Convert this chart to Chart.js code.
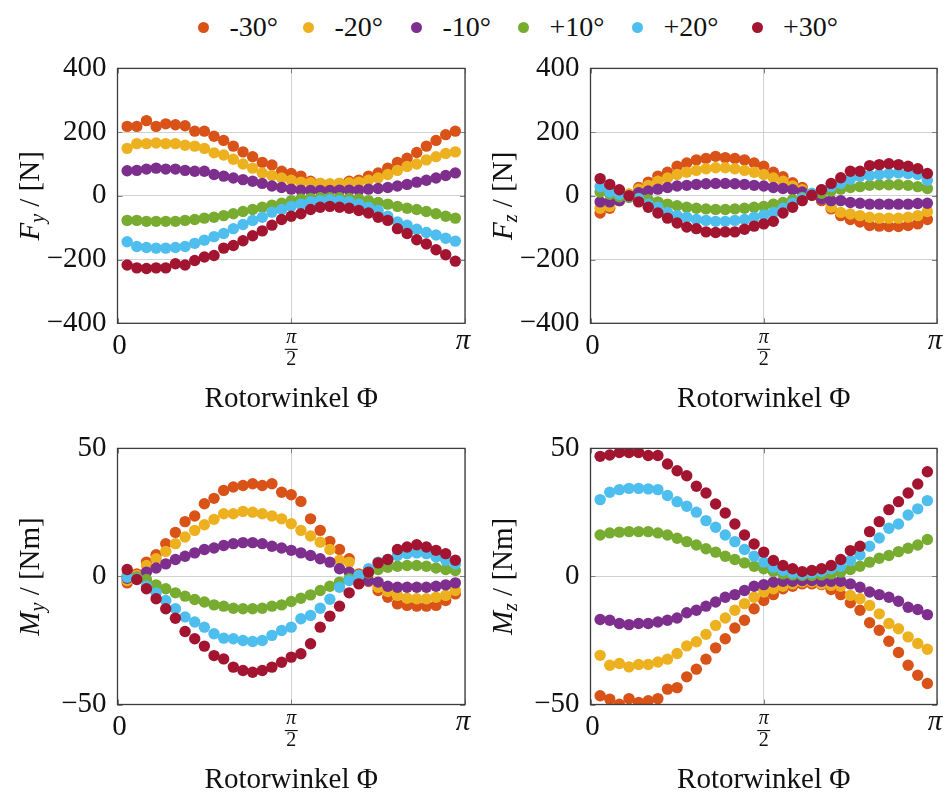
<!DOCTYPE html>
<html>
<head>
<meta charset="utf-8">
<script src="https://cdn.jsdelivr.net/npm/chart.js@4/dist/chart.umd.min.js"></script>
<style>
  html, body { margin: 0; padding: 0; background: #fff; }
  #wrap { position: relative; width: 949px; height: 794px; overflow: hidden; font-family: "Liberation Serif", serif; color: #111; }
  .panel { position: absolute; }
  #legend { position: absolute; left: 0; top: 9px; width: 949px; height: 36px; }
  .dot { position: absolute; top: 12.5px; width: 11px; height: 11px; border-radius: 50%; }
  .txt { position: absolute; top: 0; font-size: 28px; line-height: 36px; white-space: nowrap; }
</style>
</head>
<body>
<div id="wrap">
  <div id="legend"></div>
  <div class="panel" style="left:0;top:40px"><canvas id="cFy" width="474" height="380"></canvas></div>
  <div class="panel" style="left:474px;top:40px"><canvas id="cFz" width="475" height="380"></canvas></div>
  <div class="panel" style="left:0;top:420px"><canvas id="cMy" width="474" height="374"></canvas></div>
  <div class="panel" style="left:474px;top:420px"><canvas id="cMz" width="475" height="374"></canvas></div>
</div>
<script>
// Blade pitch angles (series) and their colours
const SERIES_LABELS = ['-30°', '-20°', '-10°', '+10°', '+20°', '+30°'];
const SERIES_COLORS = ['#D95319', '#EDB120', '#7E2F8E', '#77AC30', '#4DBEEE', '#A2142F'];

// Rotor angle of each sample, in degrees (axis runs 0 … 180° = 0 … π)
const ANGLE_DEG = [5, 10, 15, 20, 25, 30, 35, 40, 45, 50, 55, 60, 65, 70, 75, 80, 85, 90,
                   95, 100, 105, 110, 115, 120, 125, 130, 135, 140, 145, 150, 155, 160, 165, 170, 175];

// x-axis ticks and their labels
const X_TICKS = [0, 90, 180];
const X_TICK_LABELS = ['0', 'π/2', 'π'];
const X_TITLE = 'Rotorwinkel Φ';

// y-axis ticks
const F_TICKS = [-400, -200, 0, 200, 400];
const M_TICKS = [-50, 0, 50];

// Fy [N]
const fyM30 = [218, 218, 236, 218, 226, 223, 220, 203, 203, 187, 174, 156, 138, 123, 105, 97, 77, 70, 62, 46, 39, 36, 39, 46, 49, 62, 72, 87, 105, 118, 136, 156, 174, 192, 203];
const fyM20 = [149, 164, 164, 166, 164, 164, 159, 156, 149, 135, 128, 115, 100, 87, 72, 64, 56, 49, 43, 41, 39, 38, 39, 41, 43, 49, 56, 67, 80, 92, 100, 113, 123, 133, 138];
const fyM10 = [79, 80, 84, 87, 84, 84, 80, 77, 77, 67, 62, 56, 51, 46, 39, 31, 26, 21, 18, 17, 17, 17, 18, 18, 18, 21, 23, 26, 31, 36, 43, 49, 56, 64, 72];
const fyP10 = [-77, -77, -80, -80, -80, -80, -77, -74, -70, -67, -62, -56, -49, -43, -36, -29, -23, -15, -10, -8, -6, -6, -6, -8, -10, -15, -21, -26, -33, -39, -43, -49, -56, -64, -70];
const fyP20 = [-144, -159, -162, -164, -164, -162, -159, -149, -139, -128, -118, -103, -90, -77, -67, -51, -43, -33, -26, -18, -15, -12, -15, -18, -26, -36, -46, -64, -82, -92, -105, -115, -123, -133, -142];
const fyP30 = [-217, -226, -228, -226, -226, -213, -217, -203, -192, -187, -164, -156, -141, -125, -110, -92, -74, -64, -56, -43, -36, -33, -36, -39, -46, -54, -67, -77, -103, -118, -138, -151, -169, -185, -205];

// Fz [N]
const fzM30 = [-54, -39, -15, 5, 26, 43, 62, 74, 93, 103, 113, 117, 124, 120, 117, 113, 103, 93, 74, 60, 41, 26, 5, -15, -41, -62, -74, -82, -93, -95, -96, -96, -93, -88, -74];
const fzM20 = [-39, -33, -15, 5, 21, 33, 46, 56, 67, 74, 80, 85, 88, 88, 85, 80, 74, 67, 56, 46, 31, 19, 2, -10, -36, -52, -57, -62, -67, -70, -70, -70, -67, -62, -49];
const fzM10 = [-19, -19, -15, 0, 10, 15, 21, 26, 31, 33, 36, 38, 39, 39, 38, 36, 33, 31, 26, 23, 19, 12, 5, -10, -15, -15, -21, -23, -26, -26, -26, -26, -26, -24, -23];
const fzP10 = [12, 5, -3, -5, -8, -12, -19, -26, -31, -36, -39, -41, -43, -43, -41, -39, -36, -33, -26, -21, -12, -5, 2, 8, 15, 21, 26, 29, 33, 35, 35, 35, 33, 29, 23];
const fzP20 = [29, 12, 5, -2, -10, -26, -36, -52, -62, -67, -74, -77, -80, -80, -77, -74, -67, -60, -52, -39, -23, -8, 8, 19, 29, 39, 52, 62, 64, 67, 70, 72, 70, 67, 49];
const fzP30 = [54, 36, 19, 0, -19, -36, -54, -70, -85, -98, -103, -113, -115, -113, -113, -105, -95, -88, -80, -54, -36, -15, 2, 19, 39, 57, 77, 77, 95, 98, 101, 98, 93, 85, 70];

// My [Nm]
const myM30 = [-2.5, 1.0, 5.6, 8.5, 12.8, 17.2, 21.4, 23.6, 28.4, 30.5, 33.6, 34.9, 35.5, 36.2, 35.5, 36.2, 32.9, 31.9, 29.3, 22.5, 18.0, 13.7, 10.5, 6.9, 1.0, -2.0, -5.5, -8.1, -10.7, -11.3, -11.6, -11.6, -11.3, -9.4, -6.8];
const myM20 = [-1.6, 0.4, 4.3, 6.9, 9.8, 12.8, 15.4, 18.0, 20.2, 22.3, 24.5, 24.5, 25.4, 25.1, 24.5, 23.6, 22.5, 20.6, 18.0, 15.8, 13.4, 10.5, 6.3, 5.6, 0.4, -1.6, -4.2, -5.9, -7.4, -8.5, -8.7, -8.7, -8.1, -7.4, -5.5];
const myM10 = [-0.7, -0.3, 1.7, 3.3, 4.9, 6.6, 7.9, 9.2, 10.5, 11.1, 12.1, 12.8, 13.2, 13.2, 12.8, 11.8, 11.1, 10.2, 9.2, 8.2, 6.9, 5.6, 3.0, 1.7, -0.3, -1.6, -2.2, -3.8, -4.2, -4.2, -4.2, -4.2, -3.8, -3.3, -2.5];
const myP10 = [0.4, -0.3, -1.2, -3.3, -4.8, -6.4, -7.7, -9.0, -10.0, -11.1, -11.6, -12.4, -12.6, -12.6, -12.4, -11.6, -11.1, -9.8, -8.5, -7.2, -5.5, -3.8, -2.2, -0.9, 0.4, 1.4, 2.7, 3.6, 4.0, 4.3, 4.3, 4.0, 3.3, 2.7, 2.3];
const myP20 = [-0.3, -0.9, -3.8, -6.4, -9.4, -12.6, -15.8, -17.8, -19.8, -22.4, -24.1, -24.3, -25.0, -25.4, -25.0, -23.0, -21.1, -19.8, -16.5, -15.2, -12.4, -8.9, -4.2, -1.6, 0.4, 3.0, 5.6, 6.6, 8.2, 8.9, 9.2, 8.9, 7.6, 6.3, 4.9];
const myP30 = [2.7, -1.2, -4.8, -8.7, -12.6, -16.3, -21.5, -24.3, -27.2, -30.9, -32.2, -35.4, -36.7, -37.4, -36.7, -35.4, -33.5, -31.5, -30.2, -26.3, -19.8, -15.5, -11.6, -6.4, -2.9, 1.7, 5.3, 6.6, 10.5, 11.5, 12.4, 11.5, 10.2, 8.9, 6.3];

// Mz [Nm]
const mzM30 = [-46.6, -47.9, -49.9, -47.7, -49.2, -48.5, -47.7, -44.0, -43.4, -39.2, -36.2, -32.3, -27.9, -24.3, -20.1, -17.1, -12.6, -9.4, -7.1, -4.8, -3.8, -2.9, -2.9, -3.2, -5.1, -7.1, -10.3, -13.2, -18.1, -21.0, -25.3, -29.7, -34.7, -38.6, -41.8];
const mzM20 = [-30.8, -34.7, -34.0, -35.3, -34.4, -34.4, -33.4, -32.3, -30.1, -27.1, -25.5, -22.6, -19.1, -16.2, -13.2, -10.6, -8.1, -6.1, -4.8, -3.8, -2.9, -2.2, -2.2, -2.9, -3.5, -3.8, -7.4, -8.7, -11.3, -14.6, -18.4, -20.4, -23.6, -26.2, -28.4];
const mzM10 = [-16.8, -17.1, -18.4, -18.8, -18.4, -18.4, -17.8, -17.1, -16.2, -14.2, -13.2, -11.6, -10.0, -8.1, -7.1, -5.5, -3.8, -3.2, -2.2, -1.9, -1.9, -1.6, -1.6, -1.9, -1.9, -1.9, -2.9, -4.2, -6.1, -7.1, -8.1, -9.7, -12.0, -12.9, -14.9];
const mzP10 = [16.2, 17.0, 17.3, 17.5, 17.5, 17.5, 17.0, 16.2, 14.9, 13.6, 12.3, 10.8, 9.5, 7.9, 6.6, 5.3, 4.0, 3.0, 1.9, 1.0, 0.6, 0.4, 0.4, 0.6, 1.0, 1.7, 2.7, 4.0, 5.6, 7.1, 8.2, 9.7, 11.0, 12.3, 14.4];
const mzP20 = [30.0, 32.9, 33.9, 34.4, 34.4, 34.2, 33.9, 31.6, 29.2, 27.4, 25.1, 21.8, 19.2, 16.2, 13.6, 10.5, 7.9, 5.6, 3.6, 2.3, 1.4, 1.0, 1.4, 1.9, 3.0, 4.0, 6.2, 8.4, 11.8, 15.0, 18.8, 20.5, 24.0, 26.4, 29.6];
const mzP30 = [46.9, 47.4, 48.4, 48.4, 48.4, 47.2, 47.2, 43.9, 41.3, 39.3, 35.2, 32.6, 28.3, 24.8, 20.5, 16.2, 12.7, 9.5, 6.2, 4.3, 3.0, 1.9, 2.3, 3.0, 4.3, 6.6, 10.1, 11.8, 17.5, 21.4, 26.1, 29.2, 32.6, 36.1, 40.9];

const SERIF = '"Liberation Serif", "Times New Roman", serif';
const INK = '#111';

// ---- legend (shared by all four panels): marker centres along the top row ----
const LEGEND_DOT_X = [203.5, 308.5, 416.5, 523.5, 637.5, 757];
const legendEl = document.getElementById('legend');
SERIES_LABELS.forEach((lab, i) => {
  const d = document.createElement('span');
  d.className = 'dot';
  d.style.background = SERIES_COLORS[i];
  d.style.left = (LEGEND_DOT_X[i] - 5.5) + 'px';
  const t = document.createElement('span');
  t.className = 'txt';
  t.style.left = (LEGEND_DOT_X[i] + 26) + 'px';
  t.textContent = lab;
  legendEl.appendChild(d);
  legendEl.appendChild(t);
});

function fmtTick(v) { return v < 0 ? '\u2212' + Math.abs(v) : String(v); }

// frame with inward ticks, x tick labels (incl. π/2 fraction), axis titles
const decorPlugin = {
  id: 'decor',
  afterDatasetsDraw(chart, args, opts) {
    const { ctx, chartArea: a } = chart;
    const xs = chart.scales.x, ys = chart.scales.y;
    ctx.save();
    ctx.strokeStyle = '#808080';
    ctx.lineWidth = 1;
    ctx.beginPath();
    ys.ticks.forEach(t => {
      const y = Math.round(ys.getPixelForValue(t.value)) + 0.5;
      ctx.moveTo(a.left, y); ctx.lineTo(a.left + 5, y);
      ctx.moveTo(a.right, y); ctx.lineTo(a.right - 5, y);
    });
    xs.ticks.forEach(t => {
      const x = Math.round(xs.getPixelForValue(t.value)) + 0.5;
      ctx.moveTo(x, a.bottom); ctx.lineTo(x, a.bottom - 5);
      ctx.moveTo(x, a.top); ctx.lineTo(x, a.top + 5);
    });
    ctx.stroke();
    ctx.strokeStyle = '#3c3c3c';
    ctx.lineWidth = 1.3;
    ctx.strokeRect(a.left, a.top, a.right - a.left, a.bottom - a.top);
    ctx.restore();
  },
  afterDraw(chart, args, opts) {
    const { ctx, chartArea: a } = chart;
    const xs = chart.scales.x;
    ctx.save();
    ctx.fillStyle = INK;
    ctx.textAlign = 'center';
    ctx.textBaseline = 'alphabetic';
    X_TICKS.forEach((v, i) => {
      const lab = X_TICK_LABELS[i];
      const x = xs.getPixelForValue(v);
      if (lab.includes('/')) {
        const [num, den] = lab.split('/');
        ctx.font = 'italic 20px ' + SERIF;
        ctx.fillText(num, x, a.bottom + 19.7);
        ctx.font = '20px ' + SERIF;
        ctx.fillText(den, x, a.bottom + 41.7);
        ctx.fillRect(x - 6.5, a.bottom + 25.5, 13, 1.1);
      } else if (lab === 'π') {
        ctx.font = 'italic 29px ' + SERIF;
        ctx.fillText(lab, x - 2, a.bottom + 25.7);
      } else {
        ctx.font = '29px ' + SERIF;
        ctx.fillText(lab, x + 2, a.bottom + 30.7);
      }
    });
    ctx.font = '29px ' + SERIF;
    ctx.fillText(X_TITLE, (a.left + a.right) / 2, a.bottom + 83.2);

    // rotated y title with subscript
    const t = opts.yTitle;
    ctx.translate(opts.yTitleX, (a.top + a.bottom) / 2);
    ctx.rotate(-Math.PI / 2);
    const fSym = 'italic 29px ' + SERIF, fSub = 'italic 20px ' + SERIF, fUnit = '29px ' + SERIF;
    const rest = ' / ' + t.unit;
    ctx.font = fSym; const w1 = ctx.measureText(t.sym).width;
    ctx.font = fSub; const w2 = ctx.measureText(t.sub).width;
    ctx.font = fUnit; const w3 = ctx.measureText(rest).width;
    let x = -(w1 + w2 + w3) / 2;
    const base = 9;
    ctx.textAlign = 'left';
    ctx.font = fSym; ctx.fillText(t.sym, x, base); x += w1;
    ctx.font = fSub; ctx.fillText(t.sub, x, base + 5); x += w2;
    ctx.font = fUnit; ctx.fillText(rest, x, base);
    ctx.restore();
  }
};

function makePanel(canvasId, seriesValues, yTicks, yTitle, area) {
  const cv = document.getElementById(canvasId);
  const W = cv.width, H = cv.height;
  const datasets = seriesValues.map((vals, i) => ({
    label: SERIES_LABELS[i],
    data: ANGLE_DEG.map((deg, k) => ({ x: deg, y: vals[k] })),
    backgroundColor: SERIES_COLORS[i],
    borderWidth: 0,
    pointRadius: 5.7,
    pointHoverRadius: 5.7,
    showLine: false,
    order: seriesValues.length - i
  }));
  return new Chart(cv, {
    type: 'scatter',
    data: { datasets },
    plugins: [decorPlugin],
    options: {
      responsive: false,
      animation: false,
      devicePixelRatio: 1,
      events: [],
      layout: { padding: { left: 0, top: area.t, right: W - area.r, bottom: 0 } },
      plugins: {
        legend: { display: false },
        tooltip: { enabled: false },
        decor: { yTitle, yTitleX: area.titleX }
      },
      scales: {
        x: {
          type: 'linear', min: 0, max: 180,
          afterBuildTicks: s => { s.ticks = X_TICKS.map(v => ({ value: v })); },
          ticks: { display: false },
          grid: { color: '#d2d2d2', lineWidth: 1, drawTicks: false },
          border: { display: false },
          afterFit: s => { s.height = H - area.b; }
        },
        y: {
          type: 'linear', min: yTicks[0], max: yTicks[yTicks.length - 1],
          afterBuildTicks: s => { s.ticks = yTicks.map(v => ({ value: v })); },
          ticks: {
            padding: 11,
            color: INK,
            font: { family: SERIF, size: 29 },
            callback: v => fmtTick(v)
          },
          grid: { color: '#d2d2d2', lineWidth: 1, drawTicks: false },
          border: { display: false },
          afterFit: s => { s.width = area.l; }
        }
      }
    }
  });
}

makePanel('cFy', [fyM30, fyM20, fyM10, fyP10, fyP20, fyP30], F_TICKS,
  { sym: 'F', sub: 'y', unit: '[N]' }, { l: 117.5, t: 23.3, r: 465, b: 283.3, titleX: 30 });
makePanel('cFz', [fzM30, fzM20, fzM10, fzP10, fzP20, fzP30], F_TICKS,
  { sym: 'F', sub: 'z', unit: '[N]' }, { l: 116.5, t: 23.3, r: 463, b: 283.3, titleX: 29 });
makePanel('cMy', [myM30, myM20, myM10, myP10, myP20, myP30], M_TICKS,
  { sym: 'M', sub: 'y', unit: '[Nm]' }, { l: 117.5, t: 24.5, r: 465, b: 284.5, titleX: 30 });
makePanel('cMz', [mzM30, mzM20, mzM10, mzP10, mzP20, mzP30], M_TICKS,
  { sym: 'M', sub: 'z', unit: '[Nm]' }, { l: 116.5, t: 24.5, r: 463, b: 284.5, titleX: 29 });
</script>
</body>
</html>
